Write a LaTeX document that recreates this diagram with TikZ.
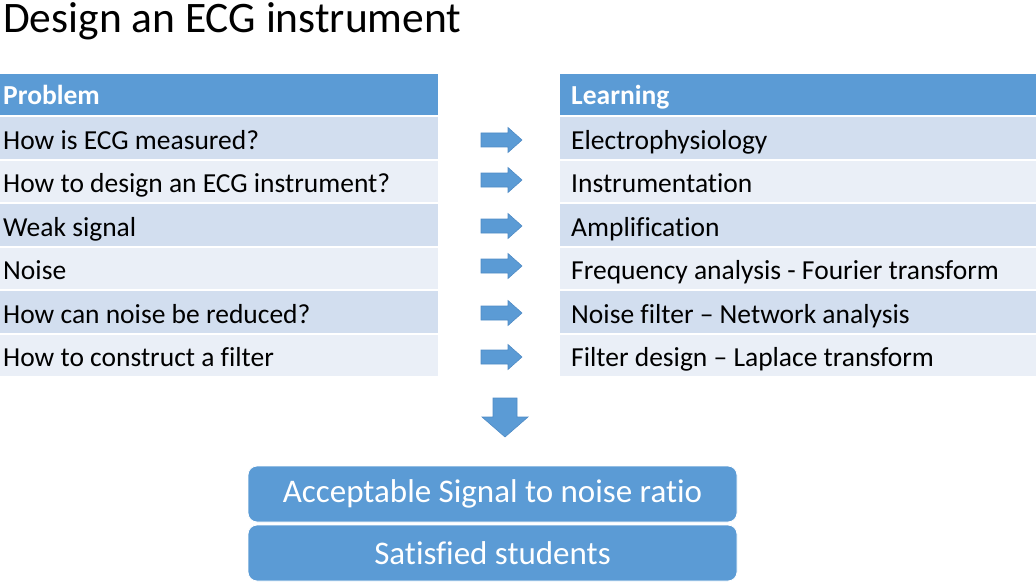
\documentclass[tikz,border=0pt]{standalone}
\usepackage{fontspec}
\setmainfont{Carlito}[Ligatures={NoCommon,NoRare,NoDiscretionary}]
\definecolor{hdrblue}{HTML}{5B9BD5}
\definecolor{bandA}{HTML}{D2DEEF}
\definecolor{bandB}{HTML}{EAEFF7}
\definecolor{arrowline}{HTML}{4F8BC5}
\tikzset{
  cell/.style={anchor=north west, inner sep=0pt, outer sep=0pt, draw=none, minimum height=41.5pt},
  lcell/.style={cell, minimum width=438pt},
  rcell/.style={cell, minimum width=476pt},
  celltext/.style={anchor=base west, inner sep=0pt, font=\fontsize{27.5}{33}\selectfont, text=black},
  hdrtext/.style={celltext, font=\fontsize{27.5}{33}\selectfont\bfseries, text=white},
  blockarrow/.style={fill=hdrblue, draw=arrowline, line width=0.6pt},
  resultbox/.style={draw=white, line width=0.8pt, fill=hdrblue, rounded corners=9pt, minimum width=489pt, minimum height=56pt, inner sep=0pt, text=white, font=\fontsize{33}{40}\selectfont},
}
\begin{document}
\begin{tikzpicture}[x=1pt,y=-1pt]
\useasboundingbox (0,0) rectangle (1036,583);
% title
\node[anchor=base west, inner sep=0pt, font=\fontsize{43.5}{50}\selectfont] (title) at (3,33) {Design an ECG instrument};
% headers
\node[lcell, fill=hdrblue] (lh) at (0,74) {};
\node[rcell, fill=hdrblue] (rh) at (560,74) {};
\node[hdrtext] (lht) at (3,104.5) {Problem};
\node[hdrtext] (rht) at (571,104.5) {Learning};
% rows
\foreach \i/\l/\r/\c in {
  0/{How is ECG measured?}/{Electrophysiology}/bandA,
  1/{How to design an ECG instrument?}/{Instrumentation}/bandB,
  2/{Weak signal}/{Amplification}/bandA,
  3/{Noise}/{Frequency analysis - Fourier transform}/bandB,
  4/{How can noise be reduced?}/{Noise filter – Network analysis}/bandA,
  5/{How to construct a filter}/{Filter design – Laplace transform}/bandB}{
  \pgfmathsetmacro{\ytop}{117.5+43.4*\i}
  \node[lcell, fill=\c] (l\i) at (0,\ytop) {};
  \node[rcell, fill=\c] (r\i) at (560,\ytop) {};
  \node[celltext] (lt\i) at (3,\ytop+32) {\l};
  \node[celltext] (rt\i) at (571,\ytop+32) {\r};
}
% right arrows
\foreach \y in {140,180,226,266,313,357}{
  \draw[blockarrow] (481,\y-7) -- (508,\y-7) -- (508,\y-12.5) -- (522,\y) -- (508,\y+12.5) -- (508,\y+7) -- (481,\y+7) -- cycle;
}
% down arrow
\draw[blockarrow] (493,398) -- (517,398) -- (517,417) -- (528,417) -- (505,437) -- (482,417) -- (493,417) -- cycle;
% result boxes
\node[resultbox] (res1) at (492.5,494) {Acceptable Signal to noise ratio};
\node[resultbox] (res2) at (492.5,553) {Satisfied students};
\end{tikzpicture}
\end{document}
